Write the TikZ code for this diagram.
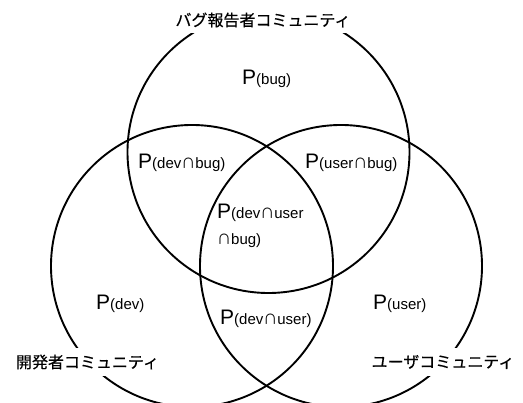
\documentclass[tikz,border=0pt]{standalone}
\usepackage{fontspec}
\setmainfont{Liberation Sans}
\newfontfamily\jpfont[FakeBold=0.4]{Noto Sans CJK JP}
\newfontfamily\capfont{Noto Sans CJK JP}
\begin{document}
\begin{tikzpicture}[x=1pt,y=-1pt,
  venn/.style={circle,draw=black,line width=1.9pt,minimum size=282pt,inner sep=0pt},
  comm/.style={fill=white,inner sep=2pt,font=\jpfont\fontsize{16}{16}\selectfont},
  prob/.style={anchor=base west,inner sep=0pt}]
\useasboundingbox (0,0) rectangle (523,403);
\node[venn] (ctop) at (268.5,152) {};
\node[venn] (cdev) at (192,266) {};
\node[venn] (cuser) at (341,266) {};
\newcommand{\pr}[1]{{\fontsize{21}{21}\selectfont P}{\fontsize{15}{15}\selectfont #1}}
\newcommand{\cp}{{\capfont\fontsize{14}{14}\selectfont ∩}}
\node[prob] (pbug) at (242,85) {\pr{(bug)}};
\node[prob] (pdevbug) at (138,169) {\pr{(dev\cp bug)}};
\node[prob] (puserbug) at (305,169) {\pr{(user\cp bug)}};
\node[prob] (pall) at (217,219) {\pr{(dev\cp user}};
\node[prob] (pall2) at (217,245) {\fontsize{15}{15}\selectfont \cp bug)};
\node[prob] (pdev) at (96,310) {\pr{(dev)}};
\node[prob] (pdevuser) at (220,325) {\pr{(dev\cp user)}};
\node[prob] (puser) at (373,310) {\pr{(user)}};
\node[comm,minimum height=26pt] (lbug) at (263,20) {バグ報告者コミュニティ};
\node[comm,minimum height=28pt] (ldev) at (87.5,362) {開発者コミュニティ};
\node[comm,minimum height=28pt] (luser) at (443,362) {ユーザコミュニティ};
\end{tikzpicture}
\end{document}
